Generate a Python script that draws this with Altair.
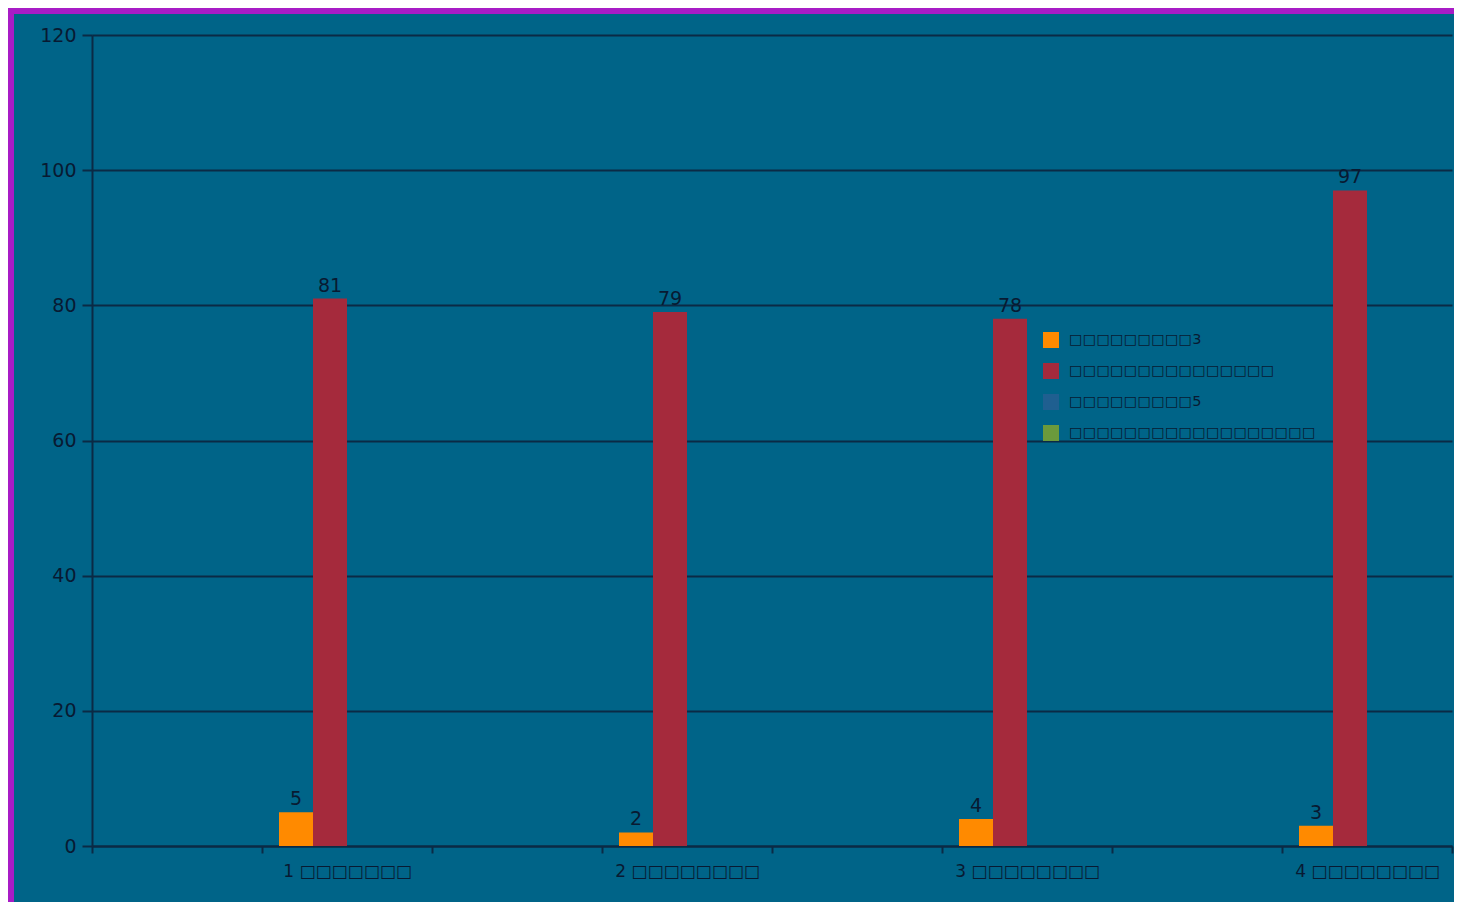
import altair as alt
import pandas as pd

# ---- data -------------------------------------------------------------
categories = ["1 □□□□□□□", "2 □□□□□□□□", "3 □□□□□□□□", "4 □□□□□□□□"]
spacers = [" ", "  ", "   ", "    "]
series_names = ["□□□□□□□□□3", "□□□□□□□□□□□□□□□", "□□□□□□□□□5", "□□□□□□□□□□□□□□□□□□"]
series_colors = ["#ff8a00", "#a52a3c", "#1f5f90", "#6b9a3c"]
values_s1 = [5, 2, 4, 3]
values_s2 = [81, 79, 78, 97]
values_s3 = [None, None, None, None]
values_s4 = [None, None, None, None]
y_ticks = [0, 20, 40, 60, 80, 100, 120]

rows = []
for s, vals in zip(series_names, [values_s1, values_s2, values_s3, values_s4]):
    for c, v in zip(categories, vals):
        rows.append({"cat": c, "series": s, "value": v})
df = pd.DataFrame(rows)

x_domain = []
for sp, c in zip(spacers, categories):
    x_domain += [sp, c]

TEXT = "#081a32"
GRID = "#0b2a45"
BG = "#006488"
FONT = "DejaVu Sans"
W, H = 1360, 811

x_enc = alt.X(
    "cat:N",
    scale=alt.Scale(domain=x_domain, paddingInner=0, paddingOuter=0),
    sort=x_domain,
    axis=alt.Axis(
        title=None, tickBand="extent", labelAngle=0, tickSize=7, tickWidth=2,
        tickColor=GRID, domainColor=GRID, domainWidth=2,
        labelPadding=10, labelFontSize=17, labelColor=TEXT, labelFont=FONT,
        grid=False,
    ),
)
y_enc = alt.Y(
    "value:Q",
    scale=alt.Scale(domain=[0, 120], nice=False),
    axis=alt.Axis(
        title=None, values=y_ticks, tickSize=10, tickWidth=2, tickColor=GRID,
        domainColor=GRID, domainWidth=2, gridColor=GRID, gridWidth=2,
        labelPadding=6, labelFontSize=19, labelColor=TEXT, labelFont=FONT,
    ),
)
xoff = alt.XOffset("series:N", sort=series_names,
                   scale=alt.Scale(domain=series_names, paddingInner=0, paddingOuter=0.5))
color = alt.Color(
    "series:N",
    scale=alt.Scale(domain=series_names, range=series_colors),
    sort=series_names,
    legend=alt.Legend(
        title=None, orient="none", legendX=951, legendY=297,
        symbolType="square", symbolSize=256, symbolStrokeWidth=0,
        labelFontSize=14.5, labelColor=TEXT, labelFont=FONT, labelOffset=10,
        rowPadding=15, labelLimit=400,
    ),
)

base = alt.Chart(df)
bars = base.mark_bar(strokeWidth=0).encode(x=x_enc, y=y_enc, xOffset=xoff, color=color)
labels = base.mark_text(dy=-13, fontSize=19, font=FONT, color=TEXT).encode(
    x=alt.X("cat:N", scale=alt.Scale(domain=x_domain, paddingInner=0, paddingOuter=0), sort=x_domain),
    y="value:Q",
    xOffset=xoff,
    text=alt.Text("value:Q"),
)

border_data = alt.Data(values=[{"k": 1}])
left_border = alt.Chart(border_data).mark_rule(color="#a81cc6", strokeWidth=6).encode(
    x=alt.value(-81), y=alt.value(-27), y2=alt.value(870)
)
top_border = alt.Chart(border_data).mark_rule(color="#a81cc6", strokeWidth=6).encode(
    x=alt.value(-84), x2=alt.value(W + 4), y=alt.value(-24)
)

chart = (
    alt.layer(bars, labels, left_border, top_border)
    .properties(
        width=W, height=H,
        autosize=alt.AutoSizeParams(type="none"),
        padding={"left": 84, "top": 27, "right": 2, "bottom": 56},
    )
    .configure(background=BG)
    .configure_view(strokeWidth=0)
)

chart.save("out.html", embed_options={"renderer": "svg", "actions": False})
